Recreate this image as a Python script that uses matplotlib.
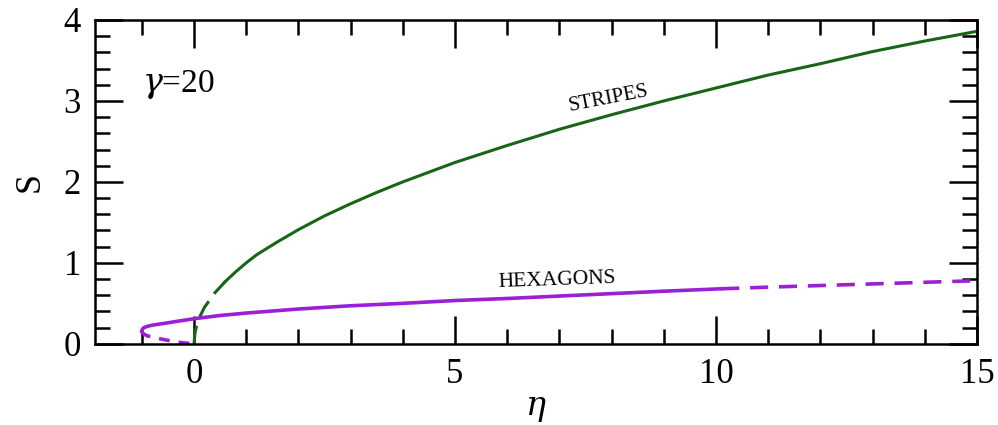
import matplotlib
matplotlib.use('Agg')
import matplotlib.pyplot as plt
from matplotlib.ticker import MultipleLocator

# values
stripes_eta = [0, 0.02, 0.05, 0.1, 0.2, 0.4, 0.6, 0.8, 1, 1.2, 1.6, 2, 2.5, 3, 3.5, 4, 5,
               6, 7, 8, 9, 10, 11, 12, 13, 14, 15]
stripes_S = [0, 0.14, 0.22, 0.32, 0.45, 0.63, 0.77, 0.89, 1.0, 1.10, 1.26, 1.41, 1.58,
             1.73, 1.87, 2.0, 2.24, 2.45, 2.65, 2.83, 3.0, 3.16, 3.32, 3.46, 3.61, 3.74,
             3.86]
stripes_split = 6  # index where dashed part ends

hex_up_eta = [-1.0, -0.99, -0.96, -0.9, -0.8, -0.6, -0.4, -0.2, 0, 0.5, 1, 1.5, 2, 3, 4,
              5, 6, 7, 8, 9, 10.1]
hex_up_S = [0.16, 0.18, 0.20, 0.215, 0.23, 0.25, 0.27, 0.29, 0.31, 0.35, 0.38, 0.405,
            0.43, 0.47, 0.50, 0.535, 0.56, 0.59, 0.62, 0.65, 0.68]
hex_tail_eta = [10.1, 11, 12, 13, 14, 15]
hex_tail_S = [0.68, 0.70, 0.72, 0.74, 0.76, 0.78]
hex_low_eta = [-1.0, -0.99, -0.96, -0.9, -0.8, -0.6, -0.4, -0.2, 0]
hex_low_S = [0.16, 0.14, 0.12, 0.10, 0.085, 0.055, 0.03, 0.012, 0]

green = '#176617'
purple = '#9b1fd6'

plt.rcParams['font.family'] = ['Liberation Serif']
plt.rcParams['mathtext.fontset'] = 'dejavuserif'
fig = plt.figure(figsize=(9.98, 4.25), dpi=100)
ax = fig.add_axes([0.095, 0.191, 0.884, 0.762])

ax.plot(stripes_eta[:stripes_split + 1], stripes_S[:stripes_split + 1], color=green,
        lw=2.2, dashes=(6, 3))
ax.plot(stripes_eta[stripes_split:], stripes_S[stripes_split:], color=green, lw=2.2)
ax.plot(hex_up_eta, hex_up_S, color=purple, lw=2.6, solid_joinstyle='round')
ax.plot(hex_tail_eta, hex_tail_S, color=purple, lw=2.6, dashes=(5, 3))
ax.plot(hex_low_eta, hex_low_S, color=purple, lw=2.6, dashes=(3, 2.5))

ax.text(7.95, 3.02, 'STRIPES', fontsize=15, rotation=11, ha='center', va='center')
ax.text(6.95, 0.78, 'HEXAGONS', fontsize=15.5, rotation=2, ha='center', va='center')
ax.text(-1.0, 3.2, r'$\gamma$=20', fontsize=24, ha='left', va='center')

ax.set_xlim(-1.9, 15)
ax.set_ylim(0, 4)
ax.xaxis.set_major_locator(MultipleLocator(5))
ax.xaxis.set_minor_locator(MultipleLocator(1))
ax.yaxis.set_major_locator(MultipleLocator(1))
ax.yaxis.set_minor_locator(MultipleLocator(0.2))
ax.tick_params(which='both', direction='in', top=True, right=True, width=1.8,
               labelsize=25)
ax.tick_params(which='major', length=20, pad=10)
ax.tick_params(which='minor', length=11)
for s in ax.spines.values():
    s.set_linewidth(1.8)

ax.set_xlabel(r'$\eta$', fontsize=24, labelpad=2)
ax.set_ylabel('S', fontsize=26, labelpad=12)

fig.savefig('out.png', dpi=100)
